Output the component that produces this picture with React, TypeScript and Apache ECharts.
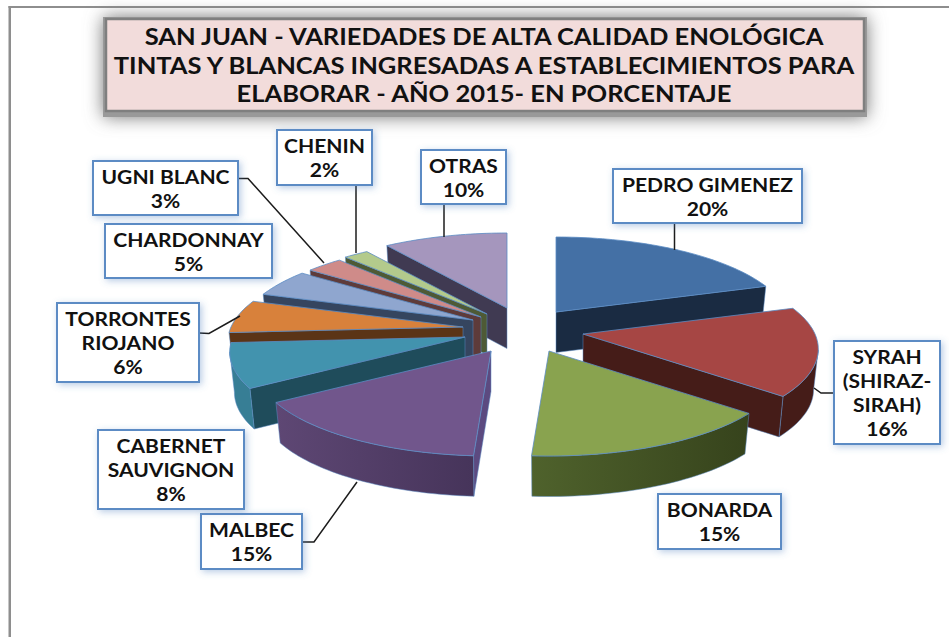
import React, { useEffect, useRef } from "react";
import * as echarts from "echarts";

const categories = ["PEDRO GIMENEZ", "SYRAH (SHIRAZ-SIRAH)", "BONARDA", "MALBEC", "CABERNET SAUVIGNON", "TORRONTES RIOJANO", "CHARDONNAY", "UGNI BLANC", "CHENIN", "OTRAS"];
const values = [20, 16, 15, 15, 8, 6, 5, 3, 2, 10];
const labelLines = [["PEDRO GIMENEZ"], ["SYRAH", "(SHIRAZ-", "SIRAH)"], ["BONARDA"], ["MALBEC"], ["CABERNET", "SAUVIGNON"], ["TORRONTES", "RIOJANO"], ["CHARDONNAY"], ["UGNI BLANC"], ["CHENIN"], ["OTRAS"]];
const titleLines = ["SAN JUAN - VARIEDADES DE ALTA CALIDAD ENOLÓGICA", "TINTAS Y BLANCAS INGRESADAS A ESTABLECIMIENTOS PARA", "ELABORAR - AÑO 2015- EN PORCENTAJE"];

const topColors = ["#4470a5", "#a64644", "#89a34f", "#71568c", "#4293ae", "#d8813b", "#8fa6cf", "#cf8b89", "#b3ca8c", "#a596bd"];
const cutColors = ["#1a2b42", "#451c18", "#36431c", "#5c4a80", "#1f4c5b", "#5b3416", "#35455f", "#5e3b3a", "#4e5a35", "#403a52"];
const rimColors = [["#1a2b42", "#1a2b42"], ["#451c18", "#451c18"], ["#4f622c", "#36431c"], ["#5e4774", "#46345a"], ["#377e95", "#377e95"], ["#5b3416", "#5b3416"], ["#35455f", "#35455f"], ["#5e3b3a", "#5e3b3a"], ["#4e5a35", "#4e5a35"], ["#403a52", "#403a52"]];

// Layout of the exploded 3D pie (pixels)
const apexes = [[556, 312], [583, 334], [549, 351], [491, 351], [465, 337], [463, 327], [473, 320], [481, 317], [487, 314], [507, 308]];
const paintOrder = [9, 8, 7, 6, 5, 4, 3, 0, 1, 2];
const RX = 232, RY = 87.5, PERSP = 1 / 6, DEPTH = 40.5, BOTTOM_SHRINK = 0.98;

const labelBoxes = [[613, 169, 189, 54], [834, 341, 106, 103], [658, 494, 123, 55], [201, 514, 101, 55], [98, 430, 146, 79], [57, 303, 142, 79], [105, 224, 167, 54], [93, 161, 145, 54], [277, 130, 95, 55], [421, 150, 85, 54]];
const leaders = [
  [[674.5, 223], [674.5, 250]],
  [[834, 393], [821, 393], [814, 388]],
  [[302, 542], [314, 542], [357, 482]],
  [[199, 333], [209, 333.5], [240, 316]],
  [[238, 178.5], [248, 178.5], [324, 263]],
  [[356, 185], [356, 253]],
  [[444, 204], [444, 237]],
];

const total = values.reduce((a, b) => a + b, 0);

function rimPoint(i: number, deg: number) {
  const t = (deg * Math.PI) / 180;
  const s = 1 / (1 + PERSP * Math.cos(t));
  return [apexes[i][0] + RX * Math.sin(t) * s, apexes[i][1] - RY * Math.cos(t) * s];
}
function lower(i: number, p: number[]) {
  return [apexes[i][0] + (p[0] - apexes[i][0]) * BOTTOM_SHRINK, p[1] + DEPTH];
}

const renderSlice = (params: any, api: any) => {
  const i = params.dataIndex;
  let before = 0;
  for (let k = 0; k < i; k++) before += values[k];
  const a0 = (before / total) * 360;
  const a1 = ((before + api.value(0)) / total) * 360;
  const arc: number[][] = [];
  const n = Math.max(2, Math.ceil((a1 - a0) / 1.5));
  for (let k = 0; k <= n; k++) arc.push(rimPoint(i, a0 + ((a1 - a0) * k) / n));
  const apex = apexes[i];
  const edge = { stroke: "#5b8bc4", lineWidth: 0.8 };
  const z2 = paintOrder.indexOf(i);
  const children: any[] = [];
  const wall = (a: number[], b: number[], fill: any) => ({
    type: "polygon",
    z2,
    shape: { points: [a, b, lower(i, b), lower(i, a)] },
    style: { fill, ...edge, lineWidth: 0.5 },
  });
  if (arc[0][0] < apex[0]) children.push(wall(apex, arc[0], cutColors[i]));
  const visible: number[][] = [];
  for (let k = 0; k < n; k++) {
    if (arc[k + 1][0] < arc[k][0]) {
      if (!visible.length) visible.push(arc[k]);
      visible.push(arc[k + 1]);
    }
  }
  if (visible.length > 1) {
    const points = [...visible, ...visible.slice().reverse().map((p) => lower(i, p))];
    children.push({
      type: "polygon",
      z2,
      shape: { points },
      style: {
        fill: new echarts.graphic.LinearGradient(0, 0, 1, 0, [
          { offset: 0, color: rimColors[i][0] },
          { offset: 1, color: rimColors[i][1] },
        ]),
        ...edge,
        lineWidth: 0.5,
      },
    });
  }
  if (arc[n][0] > apex[0]) children.push(wall(arc[n], apex, cutColors[i]));
  children.push({
    type: "polygon",
    z2,
    shape: { points: [apex, ...arc] },
    style: { fill: topColors[i], ...edge },
  });
  return { type: "group", children };
};

export default function App() {
  const ref = useRef<HTMLDivElement>(null);
  useEffect(() => {
    document.body.style.margin = "0";
    const chart = echarts.init(ref.current!, null, { renderer: "svg" });
    const graphics: any[] = [
      { type: "rect", z: 1, shape: { x: 8.5, y: 6, width: 2.5, height: 631 }, style: { fill: "#8e8e8e" } },
      { type: "rect", z: 1, shape: { x: 8.5, y: 6, width: 940.5, height: 2 }, style: { fill: "#8e8e8e" } },
      {
        type: "rect",
        z: 2,
        shape: { x: 103, y: 17, width: 764, height: 100 },
        style: { fill: "#999", shadowBlur: 18, shadowColor: "#777" },
      },
      {
        type: "rect",
        z: 2,
        shape: { x: 106, y: 19, width: 758, height: 92 },
        style: { fill: "#f2dcdb", stroke: "#7f7f7f", lineWidth: 2.5 },
      },
      ...titleLines.map((t, i) => ({
        type: "text",
        z: 3,
        x: 484,
        y: 36.5 + i * 28.5,
        scaleX: 1.11,
        style: { text: t, font: "bold 23px Lato", fill: "#111", align: "center", verticalAlign: "middle" },
      })),
    ];
    leaders.forEach((pts) =>
      graphics.push({ type: "polyline", z: 12, shape: { points: pts }, style: { stroke: "#1c1c1c", lineWidth: 1.5, fill: "none" } })
    );
    categories.forEach((c, i) => {
      const [x, y, w, h] = labelBoxes[i];
      graphics.push({
        type: "rect",
        z: 13,
        shape: { x, y, width: w, height: h },
        style: { fill: "#fff", stroke: "#5b8bc4", lineWidth: 2, shadowBlur: 7, shadowColor: "rgba(79,129,189,0.4)", shadowOffsetX: 2, shadowOffsetY: 2 },
      });
      const text = [...labelLines[i], values[i] + "%"].join("\n");
      graphics.push({
        type: "text",
        z: 14,
        x: x + w / 2,
        y: y + h / 2 + 1,
        scaleX: 1.17,
        style: { text, font: "bold 18px Lato", lineHeight: 24, fill: "#111", align: "center", verticalAlign: "middle" },
      });
    });
    chart.setOption({
      animation: false,
      backgroundColor: "#fff",
      graphic: graphics,
      series: [
        {
          type: "custom",
          coordinateSystem: "none",
          renderItem: renderSlice,
          z: 5,
          silent: true,
          data: categories.map((name, i) => ({ name, value: [values[i]] })),
        },
      ],
    });
    return () => chart.dispose();
  }, []);
  return <div ref={ref} style={{ width: 949, height: 637 }} />;
}
